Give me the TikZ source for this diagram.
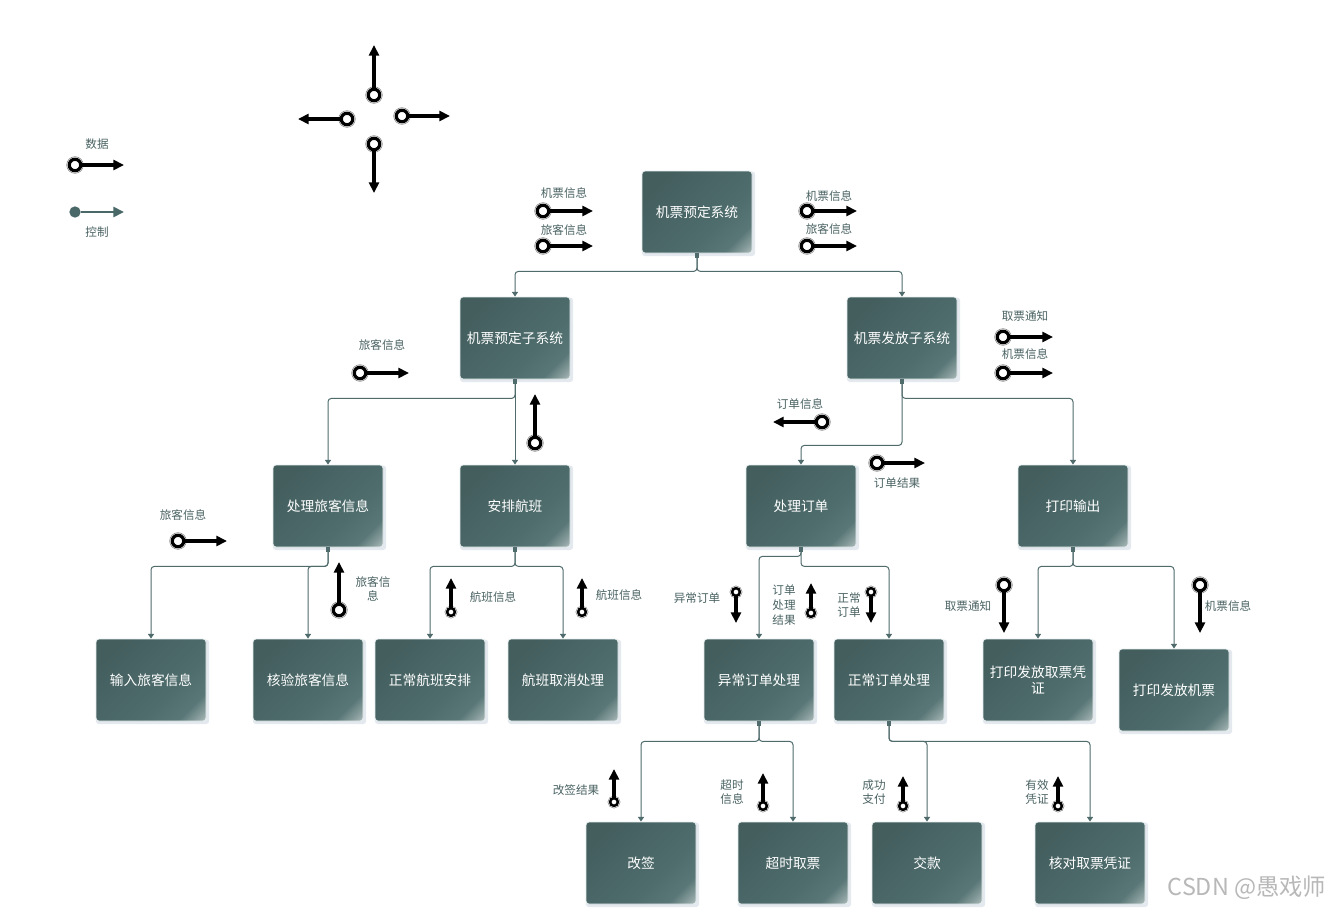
\documentclass[tikz,border=0pt]{standalone}
\usepackage{fontspec}
\setmainfont{Noto Sans CJK SC}
\usetikzlibrary{arrows.meta,shadows}
\definecolor{bxA}{HTML}{445E5E}
\definecolor{bxB}{HTML}{4F6D6D}
\definecolor{bxC}{HTML}{5A7777}
\definecolor{bxM}{HTML}{8EA2A2}
\definecolor{bxD}{HTML}{CAD4D4}
\definecolor{bxE}{HTML}{E8EFEF}
\definecolor{lblc}{HTML}{4A6262}
\definecolor{connc}{HTML}{4F6B6B}
\definecolor{ctrlc}{HTML}{4A6868}
\definecolor{shc}{HTML}{9FB2C6}
\pgfdeclarehorizontalshading{boxsh}{100bp}{color(0bp)=(bxA); color(25bp)=(bxA); color(62bp)=(bxB); color(75bp)=(bxC); color(82bp)=(bxM); color(88bp)=(bxD); color(100bp)=(bxD)}
\newcommand{\dfl}[4]{%
  \node[#4] (#1) at (#2) {};
  \coordinate (#1t) at (#3);
  \draw[dline] (#1) -- (#1t);}
\begin{document}
\begin{tikzpicture}[x=0.75pt,y=-0.75pt,
  box/.style={rectangle, rounded corners=2.2pt, minimum width=82.5pt, minimum height=61.5pt,
    inner sep=1pt, shading=boxsh, shading angle=-45, draw=bxE, line width=0.6pt,
    text=white, font=\fontsize{10.3pt}{12.6pt}\selectfont, align=center,
    drop shadow={shadow xshift=1.1pt, shadow yshift=-1.3pt, shadow scale=1.03, opacity=0.28, fill=shc}},
  lbl/.style={text=lblc, font=\fontsize{8.7pt}{11pt}\selectfont, inner sep=0pt, align=center},
  conn/.style={draw=connc, line width=0.75pt, rounded corners=2.5pt,
    -{Triangle[width=4.5pt,length=3.5pt]}},
  dbig/.style={circle, fill=white, draw=black, line width=2.4pt, minimum size=8.6pt, inner sep=0pt, outer sep=0pt,
    preaction={draw=black!55, line width=4.2pt}, preaction={draw=white, line width=3.3pt}},
  dsmall/.style={circle, fill=white, draw=black, line width=1.9pt, minimum size=5.8pt, inner sep=0pt, outer sep=0pt,
    preaction={draw=black!55, line width=3.5pt}, preaction={draw=white, line width=2.7pt}},
  dline/.style={draw=black, line width=2.8pt, -{Triangle[width=7.5pt,length=8pt]}},
  ctrl/.style={circle, fill=ctrlc, minimum size=8.5pt, inner sep=0pt, outer sep=0pt},
  cline/.style={draw=ctrlc, line width=2.2pt, -{Triangle[width=7.5pt,length=8pt]}}
]
\useasboundingbox[fill=white] (0,0) rectangle (1336,911);

% legend
\dfl{lgd}{75,165}{124,165}{dbig}
\node[lbl] (lgdl) at (97,144) {数据};
\node[ctrl] (lgc) at (75,212) {};
\coordinate (lgct) at (124,212);
\draw[cline] (lgc) -- (lgct);
\node[lbl] (lgcl) at (97,232) {控制};

% cross
\dfl{cu}{374,95}{374,45}{dbig}
\dfl{cl}{347,119}{298,119}{dbig}
\dfl{cr}{402,116}{450,116}{dbig}
\dfl{cd}{374,144}{374,193}{dbig}

% boxes
\node[box] (sys)  at (697,212) {机票预定系统};
\node[box] (sub1) at (515,338) {机票预定子系统};
\node[box] (sub2) at (902,338) {机票发放子系统};
\node[box] (p1) at (328,506) {处理旅客信息};
\node[box] (p2) at (515,506) {安排航班};
\node[box] (p3) at (801,506) {处理订单};
\node[box] (p4) at (1073,506) {打印输出};
\node[box] (q1) at (151,680) {输入旅客信息};
\node[box] (q2) at (308,680) {核验旅客信息};
\node[box] (q3) at (430,680) {正常航班安排};
\node[box] (q4) at (563,680) {航班取消处理};
\node[box] (q5) at (759,680) {异常订单处理};
\node[box] (q6) at (889,680) {正常订单处理};
\node[box] (q7) at (1038,680) {打印发放取票凭\\证};
\node[box] (q8) at (1174,690) {打印发放机票};
\node[box] (r1) at (641,863) {改签};
\node[box] (r2) at (793,863) {超时取票};
\node[box] (r3) at (927,863) {交款};
\node[box] (r4) at (1090,863) {核对取票凭证};

% connectors
\draw[conn] (sys.south) -- ++(0,18) -| (sub1.north);
\draw[conn] (sys.south) -- ++(0,18) -| (sub2.north);
\draw[conn] (sub1.south) -- ++(0,19) -| (p1.north);
\draw[conn] (sub1.south) -- (p2.north);
\draw[conn] (sub2.south) -- ++(0,66) -| (p3.north);
\draw[conn] (sub2.south) -- ++(0,19) -| (p4.north);
\draw[conn] (p1.south) -- ++(0,19) -| (q1.north);
\draw[conn] (p1.south) -- ++(0,19) -| (q2.north);
\draw[conn] (p2.south) -- ++(0,19) -| (q3.north);
\draw[conn] (p2.south) -- ++(0,19) -| (q4.north);
\draw[conn] (p3.south) -- ++(0,9) -| (q5.north);
\draw[conn] (p3.south) -- ++(0,19) -| (q6.north);
\draw[conn] (p4.south) -- ++(0,19) -| (q7.north);
\draw[conn] (p4.south) -- ++(0,19) -| (q8.north);
\draw[conn] (q5.south) -- ++(0,20) -| (r1.north);
\draw[conn] (q5.south) -- ++(0,20) -| (r2.north);
\draw[conn] (q6.south) -- ++(0,20) -| (r3.north);
\draw[conn] (q6.south) -- ++(0,20) -| (r4.north);
\foreach \n in {sys,sub1,sub2,p1,p2,p3,p4,q5,q6}
  \fill[connc] ([xshift=-1.7pt]\n.south) rectangle ([xshift=1.7pt,yshift=-3.4pt]\n.south);

% data flows
\dfl{a1}{543,211}{593,211}{dbig}
\node[lbl] (a1l) at (564,193) {机票信息};
\dfl{a2}{543,246}{593,246}{dbig}
\node[lbl] (a2l) at (564,230) {旅客信息};
\dfl{a3}{807,211}{857,211}{dbig}
\node[lbl] (a3l) at (829,196) {机票信息};
\dfl{a4}{807,246}{857,246}{dbig}
\node[lbl] (a4l) at (829,229) {旅客信息};

\dfl{b1}{360,373}{409,373}{dbig}
\node[lbl] (b1l) at (382,345) {旅客信息};
\dfl{b2}{535,443}{535,394}{dbig}

\dfl{c1}{178,541}{227,541}{dbig}
\node[lbl] (c1l) at (183,515) {旅客信息};
\dfl{c2}{339,610}{339,562}{dbig}
\node[lbl] (c2l) at (373,589) {旅客信\\息};
\dfl{c3}{451,612}{451,578}{dsmall}
\node[lbl] (c3l) at (493,597) {航班信息};
\dfl{c4}{582,612}{582,578}{dsmall}
\node[lbl] (c4l) at (619,595) {航班信息};

\dfl{d1}{822,422}{773,422}{dbig}
\node[lbl] (d1l) at (800,404) {订单信息};
\dfl{d2}{877,463}{925,463}{dbig}
\node[lbl] (d2l) at (897,483) {订单结果};

\dfl{e1}{1003,337}{1053,337}{dbig}
\node[lbl] (e1l) at (1025,316) {取票通知};
\dfl{e2}{1003,373}{1053,373}{dbig}
\node[lbl] (e2l) at (1025,354) {机票信息};

\dfl{f1}{736,592}{736,623}{dsmall}
\node[lbl] (f1l) at (697,598) {异常订单};
\dfl{f2}{811,613}{811,583}{dsmall}
\node[lbl] (f2l) at (784,605) {订单\\处理\\结果};
\dfl{f3}{871,592}{871,623}{dsmall}
\node[lbl] (f3l) at (849,605) {正常\\订单};
\dfl{f4}{1004,585}{1004,633}{dbig}
\node[lbl] (f4l) at (968,606) {取票通知};
\dfl{f5}{1200,585}{1200,633}{dbig}
\node[lbl] (f5l) at (1228,606) {机票信息};

\dfl{g1}{614,802}{614,769}{dsmall}
\node[lbl] (g1l) at (576,790) {改签结果};
\dfl{g2}{763,806}{763,773}{dsmall}
\node[lbl] (g2l) at (732,792) {超时\\信息};
\dfl{g3}{903,806}{903,776}{dsmall}
\node[lbl] (g3l) at (874,792) {成功\\支付};
\dfl{g4}{1058,806}{1058,776}{dsmall}
\node[lbl] (g4l) at (1037,792) {有效\\凭证};

% watermark
\node[text=black!28, font=\fontsize{17.5pt}{19pt}\selectfont, inner sep=0pt] (wm) at (1247,888) {CSDN @愚戏师};
\end{tikzpicture}
\end{document}
